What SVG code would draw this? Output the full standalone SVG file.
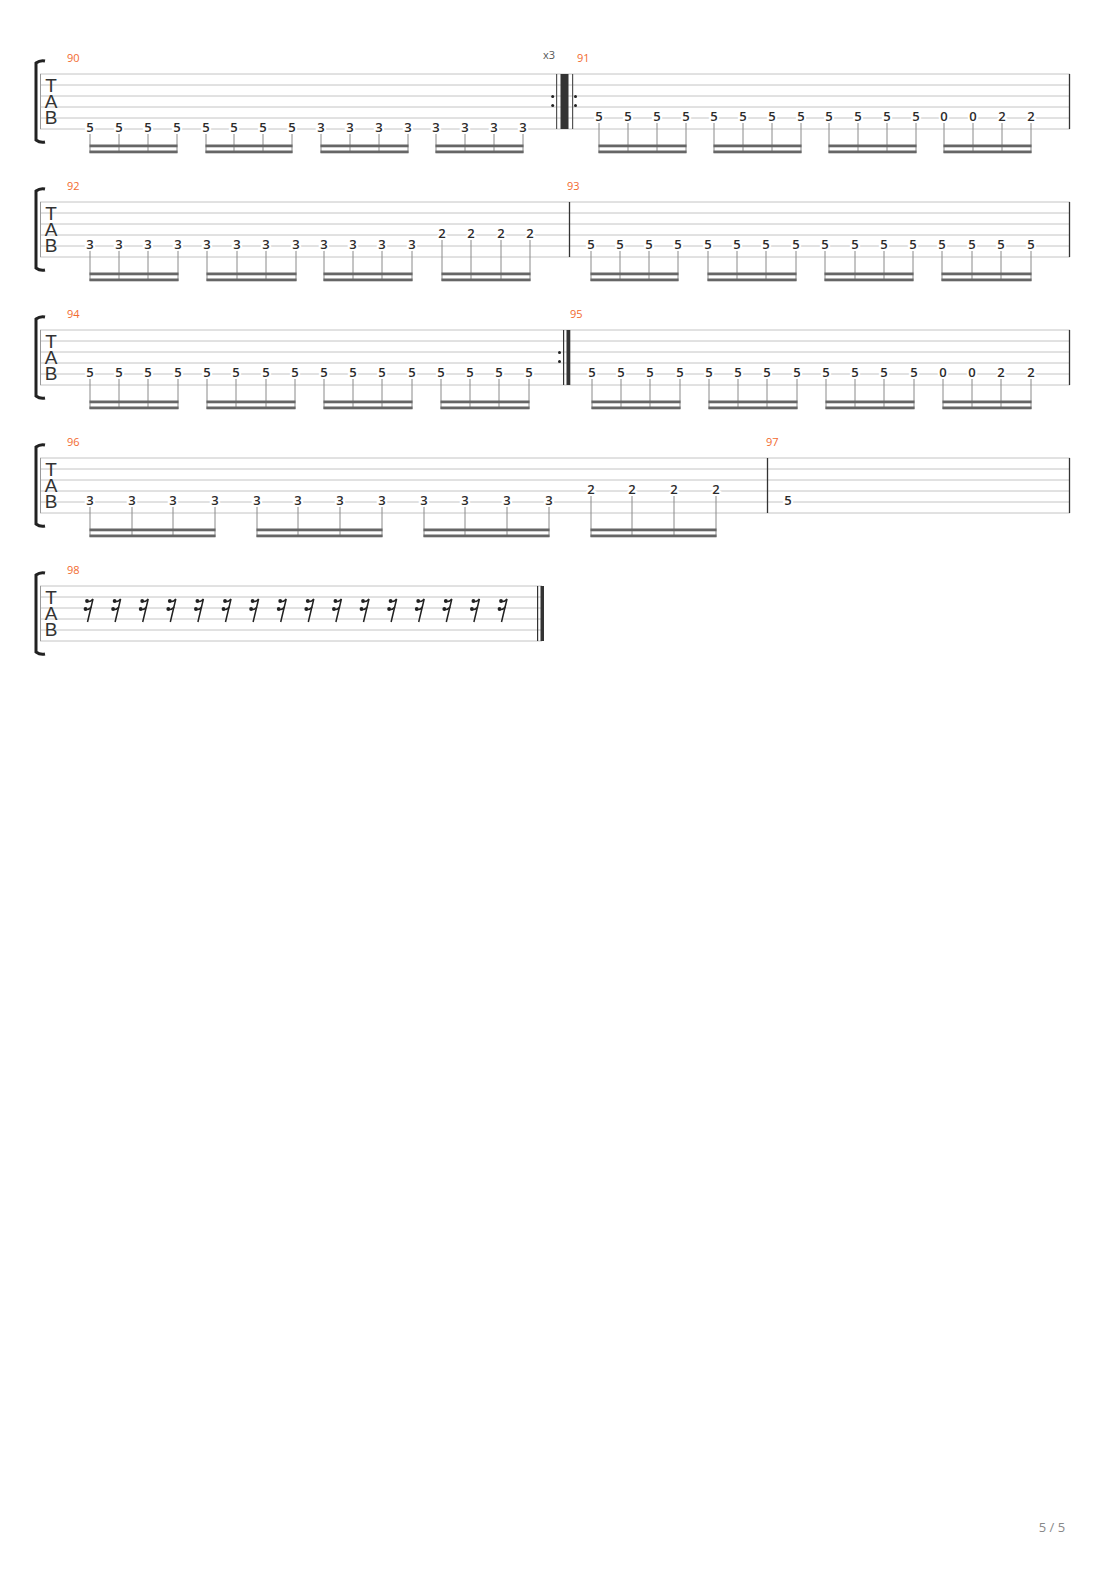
<svg xmlns="http://www.w3.org/2000/svg" width="1110" height="1570" viewBox="0 0 1110 1570">
<style>
.st{stroke:#c4c4c4;stroke-width:1}
.bar{stroke:#333;stroke-width:1.3}
.mn{font-family:"Open Sans","Liberation Sans",sans-serif;font-size:11px;fill:#f26a2e}
.tab{font-family:"Liberation Sans",sans-serif;font-size:19px;fill:#333;text-anchor:middle}
.d{font-family:"Open Sans","Liberation Sans",sans-serif;font-size:13px;font-weight:600;fill:#2b2b2b;text-anchor:middle;stroke:#fff;stroke-width:4;paint-order:stroke}
.stem{stroke:#8a8a8a;stroke-width:1}
.beam{fill:#666}
.br{fill:none;stroke:#222;stroke-width:3}
</style>
<defs>
<g id="staff">
<line class="st" x1="40" y1="0" x2="1070" y2="0"/><line class="st" x1="40" y1="11" x2="1070" y2="11"/><line class="st" x1="40" y1="22" x2="1070" y2="22"/><line class="st" x1="40" y1="33" x2="1070" y2="33"/><line class="st" x1="40" y1="44" x2="1070" y2="44"/><line class="st" x1="40" y1="55" x2="1070" y2="55"/>
<line x1="40.5" y1="0" x2="40.5" y2="55" stroke="#999" stroke-width="1"/>
<line x1="1069.5" y1="0" x2="1069.5" y2="55" class="bar"/>
<path class="br" d="M45,-13 Q40,-14 36,-11 L36,66 Q40,69 45,68"/>
<text class="tab" x="51" y="18">T</text><text class="tab" x="51" y="34">A</text><text class="tab" x="51" y="50">B</text>
</g>
<g id="rest">
<circle cx="-3" cy="15" r="1.9" fill="#222"/>
<path d="M-3,15 Q0,16.5 3,13 L-2.5,36" fill="none" stroke="#222" stroke-width="1.5"/>
<circle cx="-4.5" cy="23" r="1.9" fill="#222"/>
<path d="M-4.5,23 Q-1.5,24.5 1.3,21" fill="none" stroke="#222" stroke-width="1.5"/>
</g>
</defs>

<g id="system1" transform="translate(0,74)">
<use href="#staff"/>
<text class="mn" x="67" y="-12">90</text>
<text x="549" y="-15" font-family="Open Sans, Liberation Sans, sans-serif" font-size="11" fill="#555" text-anchor="middle">x3</text>
<text class="mn" x="577" y="-12">91</text>
<rect x="556" y="0" width="1.2" height="55" fill="#555"/><rect x="560.5" y="0" width="8" height="55" fill="#333"/><rect x="572" y="0" width="1.2" height="55" fill="#555"/>
<circle cx="552.7" cy="22.5" r="1.5" fill="#222"/><circle cx="552.7" cy="31.5" r="1.5" fill="#222"/><circle cx="575.5" cy="22.5" r="1.5" fill="#222"/><circle cx="575.5" cy="31.5" r="1.5" fill="#222"/>
<g class="stem">
<line x1="90" y1="59" x2="90" y2="79"/><line x1="119" y1="59" x2="119" y2="79"/><line x1="148" y1="59" x2="148" y2="79"/><line x1="177" y1="59" x2="177" y2="79"/>
<line x1="206" y1="59" x2="206" y2="79"/><line x1="234" y1="59" x2="234" y2="79"/><line x1="263" y1="59" x2="263" y2="79"/><line x1="292" y1="59" x2="292" y2="79"/>
<line x1="321" y1="59" x2="321" y2="79"/><line x1="350" y1="59" x2="350" y2="79"/><line x1="379" y1="59" x2="379" y2="79"/><line x1="408" y1="59" x2="408" y2="79"/>
<line x1="436" y1="59" x2="436" y2="79"/><line x1="465" y1="59" x2="465" y2="79"/><line x1="494" y1="59" x2="494" y2="79"/><line x1="523" y1="59" x2="523" y2="79"/>
<line x1="599" y1="48" x2="599" y2="79"/><line x1="628" y1="48" x2="628" y2="79"/><line x1="657" y1="48" x2="657" y2="79"/><line x1="686" y1="48" x2="686" y2="79"/>
<line x1="714" y1="48" x2="714" y2="79"/><line x1="743" y1="48" x2="743" y2="79"/><line x1="772" y1="48" x2="772" y2="79"/><line x1="801" y1="48" x2="801" y2="79"/>
<line x1="829" y1="48" x2="829" y2="79"/><line x1="858" y1="48" x2="858" y2="79"/><line x1="887" y1="48" x2="887" y2="79"/><line x1="916" y1="48" x2="916" y2="79"/>
<line x1="944" y1="48" x2="944" y2="79"/><line x1="973" y1="48" x2="973" y2="79"/><line x1="1002" y1="48" x2="1002" y2="79"/><line x1="1031" y1="48" x2="1031" y2="79"/>
</g>
<g class="beam">
<rect x="89.5" y="70.5" width="88" height="2.8"/><rect x="89.5" y="76.5" width="88" height="2.8"/>
<rect x="205.5" y="70.5" width="87" height="2.8"/><rect x="205.5" y="76.5" width="87" height="2.8"/>
<rect x="320.5" y="70.5" width="88" height="2.8"/><rect x="320.5" y="76.5" width="88" height="2.8"/>
<rect x="435.5" y="70.5" width="88" height="2.8"/><rect x="435.5" y="76.5" width="88" height="2.8"/>
<rect x="598.5" y="70.5" width="88" height="2.8"/><rect x="598.5" y="76.5" width="88" height="2.8"/>
<rect x="713.5" y="70.5" width="88" height="2.8"/><rect x="713.5" y="76.5" width="88" height="2.8"/>
<rect x="828.5" y="70.5" width="88" height="2.8"/><rect x="828.5" y="76.5" width="88" height="2.8"/>
<rect x="943.5" y="70.5" width="88" height="2.8"/><rect x="943.5" y="76.5" width="88" height="2.8"/>
</g>
<g>
<text class="d" x="90" y="57.5">5</text><text class="d" x="119" y="57.5">5</text><text class="d" x="148" y="57.5">5</text><text class="d" x="177" y="57.5">5</text>
<text class="d" x="206" y="57.5">5</text><text class="d" x="234" y="57.5">5</text><text class="d" x="263" y="57.5">5</text><text class="d" x="292" y="57.5">5</text>
<text class="d" x="321" y="57.5">3</text><text class="d" x="350" y="57.5">3</text><text class="d" x="379" y="57.5">3</text><text class="d" x="408" y="57.5">3</text>
<text class="d" x="436" y="57.5">3</text><text class="d" x="465" y="57.5">3</text><text class="d" x="494" y="57.5">3</text><text class="d" x="523" y="57.5">3</text>
<text class="d" x="599" y="46.5">5</text><text class="d" x="628" y="46.5">5</text><text class="d" x="657" y="46.5">5</text><text class="d" x="686" y="46.5">5</text>
<text class="d" x="714" y="46.5">5</text><text class="d" x="743" y="46.5">5</text><text class="d" x="772" y="46.5">5</text><text class="d" x="801" y="46.5">5</text>
<text class="d" x="829" y="46.5">5</text><text class="d" x="858" y="46.5">5</text><text class="d" x="887" y="46.5">5</text><text class="d" x="916" y="46.5">5</text>
<text class="d" x="944" y="46.5">0</text><text class="d" x="973" y="46.5">0</text><text class="d" x="1002" y="46.5">2</text><text class="d" x="1031" y="46.5">2</text>
</g>
</g>

<g id="system2" transform="translate(0,202)">
<use href="#staff"/>
<text class="mn" x="67" y="-12">92</text>
<text class="mn" x="567" y="-12">93</text>
<line x1="569.5" y1="0" x2="569.5" y2="55" class="bar"/>
<g class="stem">
<line x1="90" y1="48" x2="90" y2="79"/><line x1="119" y1="48" x2="119" y2="79"/><line x1="148" y1="48" x2="148" y2="79"/><line x1="178" y1="48" x2="178" y2="79"/>
<line x1="207" y1="48" x2="207" y2="79"/><line x1="237" y1="48" x2="237" y2="79"/><line x1="266" y1="48" x2="266" y2="79"/><line x1="296" y1="48" x2="296" y2="79"/>
<line x1="324" y1="48" x2="324" y2="79"/><line x1="353" y1="48" x2="353" y2="79"/><line x1="382" y1="48" x2="382" y2="79"/><line x1="412" y1="48" x2="412" y2="79"/>
<line x1="442" y1="37" x2="442" y2="79"/><line x1="471" y1="37" x2="471" y2="79"/><line x1="501" y1="37" x2="501" y2="79"/><line x1="530" y1="37" x2="530" y2="79"/>
<line x1="591" y1="48" x2="591" y2="79"/><line x1="620" y1="48" x2="620" y2="79"/><line x1="649" y1="48" x2="649" y2="79"/><line x1="678" y1="48" x2="678" y2="79"/>
<line x1="708" y1="48" x2="708" y2="79"/><line x1="737" y1="48" x2="737" y2="79"/><line x1="766" y1="48" x2="766" y2="79"/><line x1="796" y1="48" x2="796" y2="79"/>
<line x1="825" y1="48" x2="825" y2="79"/><line x1="855" y1="48" x2="855" y2="79"/><line x1="884" y1="48" x2="884" y2="79"/><line x1="913" y1="48" x2="913" y2="79"/>
<line x1="942" y1="48" x2="942" y2="79"/><line x1="972" y1="48" x2="972" y2="79"/><line x1="1001" y1="48" x2="1001" y2="79"/><line x1="1031" y1="48" x2="1031" y2="79"/>
</g>
<g class="beam">
<rect x="89.5" y="70.5" width="89" height="2.8"/><rect x="89.5" y="76.5" width="89" height="2.8"/>
<rect x="206.5" y="70.5" width="90" height="2.8"/><rect x="206.5" y="76.5" width="90" height="2.8"/>
<rect x="323.5" y="70.5" width="89" height="2.8"/><rect x="323.5" y="76.5" width="89" height="2.8"/>
<rect x="441.5" y="70.5" width="89" height="2.8"/><rect x="441.5" y="76.5" width="89" height="2.8"/>
<rect x="590.5" y="70.5" width="88" height="2.8"/><rect x="590.5" y="76.5" width="88" height="2.8"/>
<rect x="707.5" y="70.5" width="89" height="2.8"/><rect x="707.5" y="76.5" width="89" height="2.8"/>
<rect x="824.5" y="70.5" width="89" height="2.8"/><rect x="824.5" y="76.5" width="89" height="2.8"/>
<rect x="941.5" y="70.5" width="90" height="2.8"/><rect x="941.5" y="76.5" width="90" height="2.8"/>
</g>
<g>
<text class="d" x="90" y="46.5">3</text><text class="d" x="119" y="46.5">3</text><text class="d" x="148" y="46.5">3</text><text class="d" x="178" y="46.5">3</text>
<text class="d" x="207" y="46.5">3</text><text class="d" x="237" y="46.5">3</text><text class="d" x="266" y="46.5">3</text><text class="d" x="296" y="46.5">3</text>
<text class="d" x="324" y="46.5">3</text><text class="d" x="353" y="46.5">3</text><text class="d" x="382" y="46.5">3</text><text class="d" x="412" y="46.5">3</text>
<text class="d" x="442" y="35.5">2</text><text class="d" x="471" y="35.5">2</text><text class="d" x="501" y="35.5">2</text><text class="d" x="530" y="35.5">2</text>
<text class="d" x="591" y="46.5">5</text><text class="d" x="620" y="46.5">5</text><text class="d" x="649" y="46.5">5</text><text class="d" x="678" y="46.5">5</text>
<text class="d" x="708" y="46.5">5</text><text class="d" x="737" y="46.5">5</text><text class="d" x="766" y="46.5">5</text><text class="d" x="796" y="46.5">5</text>
<text class="d" x="825" y="46.5">5</text><text class="d" x="855" y="46.5">5</text><text class="d" x="884" y="46.5">5</text><text class="d" x="913" y="46.5">5</text>
<text class="d" x="942" y="46.5">5</text><text class="d" x="972" y="46.5">5</text><text class="d" x="1001" y="46.5">5</text><text class="d" x="1031" y="46.5">5</text>
</g>
</g>

<g id="system3" transform="translate(0,330)">
<use href="#staff"/>
<text class="mn" x="67" y="-12">94</text>
<text class="mn" x="570" y="-12">95</text>
<rect x="563" y="0" width="1.2" height="55" fill="#333"/><rect x="566.5" y="0" width="3.8" height="55" fill="#333"/>
<circle cx="559.5" cy="22.5" r="1.5" fill="#222"/><circle cx="559.5" cy="31.5" r="1.5" fill="#222"/>
<g class="stem">
<line x1="90" y1="48" x2="90" y2="79"/><line x1="119" y1="48" x2="119" y2="79"/><line x1="148" y1="48" x2="148" y2="79"/><line x1="178" y1="48" x2="178" y2="79"/>
<line x1="207" y1="48" x2="207" y2="79"/><line x1="236" y1="48" x2="236" y2="79"/><line x1="266" y1="48" x2="266" y2="79"/><line x1="295" y1="48" x2="295" y2="79"/>
<line x1="324" y1="48" x2="324" y2="79"/><line x1="353" y1="48" x2="353" y2="79"/><line x1="382" y1="48" x2="382" y2="79"/><line x1="412" y1="48" x2="412" y2="79"/>
<line x1="441" y1="48" x2="441" y2="79"/><line x1="470" y1="48" x2="470" y2="79"/><line x1="499" y1="48" x2="499" y2="79"/><line x1="529" y1="48" x2="529" y2="79"/>
<line x1="592" y1="48" x2="592" y2="79"/><line x1="621" y1="48" x2="621" y2="79"/><line x1="650" y1="48" x2="650" y2="79"/><line x1="680" y1="48" x2="680" y2="79"/>
<line x1="709" y1="48" x2="709" y2="79"/><line x1="738" y1="48" x2="738" y2="79"/><line x1="767" y1="48" x2="767" y2="79"/><line x1="797" y1="48" x2="797" y2="79"/>
<line x1="826" y1="48" x2="826" y2="79"/><line x1="855" y1="48" x2="855" y2="79"/><line x1="884" y1="48" x2="884" y2="79"/><line x1="914" y1="48" x2="914" y2="79"/>
<line x1="943" y1="48" x2="943" y2="79"/><line x1="972" y1="48" x2="972" y2="79"/><line x1="1001" y1="48" x2="1001" y2="79"/><line x1="1031" y1="48" x2="1031" y2="79"/>
</g>
<g class="beam">
<rect x="89.5" y="70.5" width="89" height="2.8"/><rect x="89.5" y="76.5" width="89" height="2.8"/>
<rect x="206.5" y="70.5" width="89" height="2.8"/><rect x="206.5" y="76.5" width="89" height="2.8"/>
<rect x="323.5" y="70.5" width="89" height="2.8"/><rect x="323.5" y="76.5" width="89" height="2.8"/>
<rect x="440.5" y="70.5" width="89" height="2.8"/><rect x="440.5" y="76.5" width="89" height="2.8"/>
<rect x="591.5" y="70.5" width="89" height="2.8"/><rect x="591.5" y="76.5" width="89" height="2.8"/>
<rect x="708.5" y="70.5" width="89" height="2.8"/><rect x="708.5" y="76.5" width="89" height="2.8"/>
<rect x="825.5" y="70.5" width="89" height="2.8"/><rect x="825.5" y="76.5" width="89" height="2.8"/>
<rect x="942.5" y="70.5" width="89" height="2.8"/><rect x="942.5" y="76.5" width="89" height="2.8"/>
</g>
<g>
<text class="d" x="90" y="46.5">5</text><text class="d" x="119" y="46.5">5</text><text class="d" x="148" y="46.5">5</text><text class="d" x="178" y="46.5">5</text>
<text class="d" x="207" y="46.5">5</text><text class="d" x="236" y="46.5">5</text><text class="d" x="266" y="46.5">5</text><text class="d" x="295" y="46.5">5</text>
<text class="d" x="324" y="46.5">5</text><text class="d" x="353" y="46.5">5</text><text class="d" x="382" y="46.5">5</text><text class="d" x="412" y="46.5">5</text>
<text class="d" x="441" y="46.5">5</text><text class="d" x="470" y="46.5">5</text><text class="d" x="499" y="46.5">5</text><text class="d" x="529" y="46.5">5</text>
<text class="d" x="592" y="46.5">5</text><text class="d" x="621" y="46.5">5</text><text class="d" x="650" y="46.5">5</text><text class="d" x="680" y="46.5">5</text>
<text class="d" x="709" y="46.5">5</text><text class="d" x="738" y="46.5">5</text><text class="d" x="767" y="46.5">5</text><text class="d" x="797" y="46.5">5</text>
<text class="d" x="826" y="46.5">5</text><text class="d" x="855" y="46.5">5</text><text class="d" x="884" y="46.5">5</text><text class="d" x="914" y="46.5">5</text>
<text class="d" x="943" y="46.5">0</text><text class="d" x="972" y="46.5">0</text><text class="d" x="1001" y="46.5">2</text><text class="d" x="1031" y="46.5">2</text>
</g>
</g>

<g id="system4" transform="translate(0,458)">
<use href="#staff"/>
<text class="mn" x="67" y="-12">96</text>
<text class="mn" x="766" y="-12">97</text>
<line x1="767.5" y1="0" x2="767.5" y2="55" class="bar"/>
<g class="stem">
<line x1="90" y1="48" x2="90" y2="79"/><line x1="132" y1="48" x2="132" y2="79"/><line x1="173" y1="48" x2="173" y2="79"/><line x1="215" y1="48" x2="215" y2="79"/>
<line x1="257" y1="48" x2="257" y2="79"/><line x1="298" y1="48" x2="298" y2="79"/><line x1="340" y1="48" x2="340" y2="79"/><line x1="382" y1="48" x2="382" y2="79"/>
<line x1="424" y1="48" x2="424" y2="79"/><line x1="465" y1="48" x2="465" y2="79"/><line x1="507" y1="48" x2="507" y2="79"/><line x1="549" y1="48" x2="549" y2="79"/>
<line x1="591" y1="37" x2="591" y2="79"/><line x1="632" y1="37" x2="632" y2="79"/><line x1="674" y1="37" x2="674" y2="79"/><line x1="716" y1="37" x2="716" y2="79"/>
</g>
<g class="beam">
<rect x="89.5" y="70.5" width="126" height="2.8"/><rect x="89.5" y="76.5" width="126" height="2.8"/>
<rect x="256.5" y="70.5" width="126" height="2.8"/><rect x="256.5" y="76.5" width="126" height="2.8"/>
<rect x="423.5" y="70.5" width="126" height="2.8"/><rect x="423.5" y="76.5" width="126" height="2.8"/>
<rect x="590.5" y="70.5" width="126" height="2.8"/><rect x="590.5" y="76.5" width="126" height="2.8"/>
</g>
<g>
<text class="d" x="90" y="46.5">3</text><text class="d" x="132" y="46.5">3</text><text class="d" x="173" y="46.5">3</text><text class="d" x="215" y="46.5">3</text>
<text class="d" x="257" y="46.5">3</text><text class="d" x="298" y="46.5">3</text><text class="d" x="340" y="46.5">3</text><text class="d" x="382" y="46.5">3</text>
<text class="d" x="424" y="46.5">3</text><text class="d" x="465" y="46.5">3</text><text class="d" x="507" y="46.5">3</text><text class="d" x="549" y="46.5">3</text>
<text class="d" x="591" y="35.5">2</text><text class="d" x="632" y="35.5">2</text><text class="d" x="674" y="35.5">2</text><text class="d" x="716" y="35.5">2</text>
<text class="d" x="788" y="46.5">5</text>
</g>
</g>

<g id="system5" transform="translate(0,586)">
<g>
<line class="st" x1="40" y1="0" x2="542" y2="0"/><line class="st" x1="40" y1="11" x2="542" y2="11"/><line class="st" x1="40" y1="22" x2="542" y2="22"/><line class="st" x1="40" y1="33" x2="542" y2="33"/><line class="st" x1="40" y1="44" x2="542" y2="44"/><line class="st" x1="40" y1="55" x2="542" y2="55"/>
<line x1="40.5" y1="0" x2="40.5" y2="55" stroke="#999" stroke-width="1"/>
<path class="br" d="M45,-13 Q40,-14 36,-11 L36,66 Q40,69 45,68"/>
<text class="tab" x="51" y="18">T</text><text class="tab" x="51" y="34">A</text><text class="tab" x="51" y="50">B</text>
</g>
<text class="mn" x="67" y="-12">98</text>
<rect x="537" y="0" width="1.2" height="55" fill="#333"/><rect x="540.5" y="0" width="3.5" height="55" fill="#333"/>
<use href="#rest" x="90"/><use href="#rest" x="117.6"/><use href="#rest" x="145.2"/><use href="#rest" x="172.8"/>
<use href="#rest" x="200.4"/><use href="#rest" x="228"/><use href="#rest" x="255.6"/><use href="#rest" x="283.2"/>
<use href="#rest" x="310.8"/><use href="#rest" x="338.4"/><use href="#rest" x="366"/><use href="#rest" x="393.6"/>
<use href="#rest" x="421.2"/><use href="#rest" x="448.8"/><use href="#rest" x="476.4"/><use href="#rest" x="504"/>
</g>

<text x="1052" y="1532" font-family="Open Sans, Liberation Sans, sans-serif" font-size="13" fill="#888" text-anchor="middle">5 / 5</text>
</svg>
